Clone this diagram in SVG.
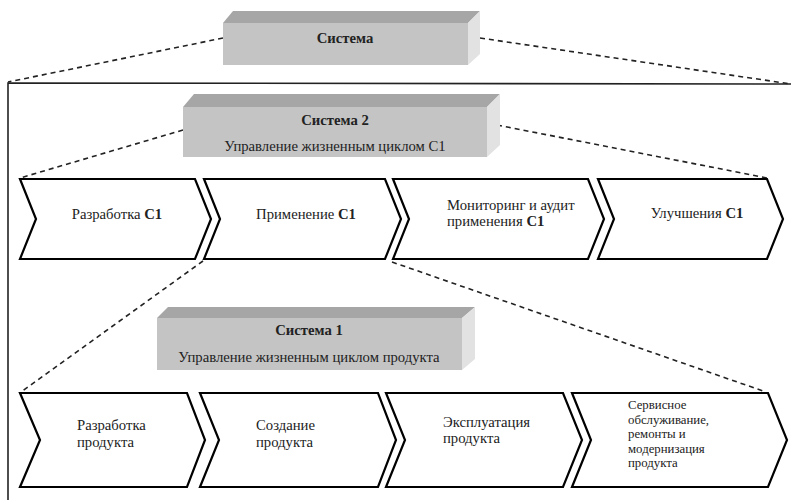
<svg xmlns="http://www.w3.org/2000/svg" width="791" height="500" viewBox="0 0 791 500">
  <style>
    .t { font-family: 'Liberation Serif', 'Times New Roman', serif; font-size: 14.7px; fill: #222; }
    .sm { font-size: 12.8px; }
    .b { font-weight: bold; }
    .mid { text-anchor: middle; }
    .front { fill: #c4c4c4; }
    .top { fill: #a6a6a6; }
    .side { fill: #e2e2e2; }
    .chev { fill: #fff; stroke: #000; stroke-width: 2.2; stroke-linejoin: miter; }
    .dash { fill: none; stroke: #222; stroke-width: 1.6; stroke-dasharray: 5 4; }
    .frame { fill: none; stroke: #222; stroke-width: 1.6; }
  </style>

  <rect width="791" height="500" fill="#fff"/>

  <!-- enclosing frame (only top and left edges fall inside the view) -->
  <polyline class="frame" points="791,84 8,83 8,500"/>

  <g id="connectors">
    <line class="dash" x1="223" y1="38" x2="8" y2="82"/>
    <line class="dash" x1="480" y1="38" x2="791" y2="84"/>
    <line class="dash" x1="183" y1="130" x2="20" y2="178"/>
    <line class="dash" x1="497" y1="125" x2="767" y2="178"/>
    <line class="dash" x1="203" y1="261" x2="21" y2="392"/>
    <line class="dash" x1="392" y1="262" x2="766" y2="392"/>
  </g>

  <!-- top-level system block -->
  <g id="system">
    <polygon class="top" points="223,23 233,11 480,11 468,23"/>
    <polygon class="side" points="468,23 480,11 480,54 468,65"/>
    <rect class="front" x="223" y="23" width="245" height="42"/>
    <text class="t b mid" x="345" y="43">Система</text>
  </g>

  <!-- system 2 block -->
  <g id="system2">
    <polygon class="top" points="183,107 194,94 500,94 487,107"/>
    <polygon class="side" points="487,107 500,94 500,145 487,157"/>
    <rect class="front" x="183" y="107" width="304" height="50"/>
    <text class="t b mid" x="335" y="125">Система 2</text>
    <text class="t mid" x="335" y="151">Управление жизненным циклом С1</text>
  </g>

  <!-- upper process chain -->
  <g id="s2-dev">
    <polygon class="chev" points="20,179 195,179 211,219 195,259 20,259 36,219"/>
    <text class="t mid" x="117" y="219">Разработка <tspan class="b">С1</tspan></text>
  </g>
  <g id="s2-use">
    <polygon class="chev" points="204,179 385,179 401,219 385,259 204,259 220,219"/>
    <text class="t mid" x="306" y="219">Применение <tspan class="b">С1</tspan></text>
  </g>
  <g id="s2-audit">
    <polygon class="chev" points="393,179 588,179 604,219 588,259 393,259 409,219"/>
    <text class="t" x="447" y="210">Мониторинг и аудит</text>
    <text class="t" x="447" y="226">применения <tspan class="b">С1</tspan></text>
  </g>
  <g id="s2-improve">
    <polygon class="chev" points="598,179 767,179 783,219 767,259 598,259 614,219"/>
    <text class="t mid" x="697" y="218">Улучшения <tspan class="b">С1</tspan></text>
  </g>

  <!-- system 1 block -->
  <g id="system1">
    <polygon class="top" points="157,318 168,307 475,307 462,318"/>
    <polygon class="side" points="462,318 475,307 475,359 462,370"/>
    <rect class="front" x="157" y="318" width="305" height="52"/>
    <text class="t b mid" x="309" y="335">Система 1</text>
    <text class="t mid" x="309" y="362">Управление жизненным циклом продукта</text>
  </g>

  <!-- lower process chain -->
  <g id="s1-dev">
    <polygon class="chev" points="20,393 187,393 205,440 187,487 20,487 40,440"/>
    <text class="t" x="77" y="430">Разработка</text>
    <text class="t" x="77" y="447">продукта</text>
  </g>
  <g id="s1-build">
    <polygon class="chev" points="200,393 378,393 396,440 378,487 200,487 219,440"/>
    <text class="t" x="256" y="430">Создание</text>
    <text class="t" x="256" y="447">продукта</text>
  </g>
  <g id="s1-operate">
    <polygon class="chev" points="386,393 563,393 582,440 563,487 386,487 405,440"/>
    <text class="t" x="443" y="427">Эксплуатация</text>
    <text class="t" x="443" y="443">продукта</text>
  </g>
  <g id="s1-service">
    <polygon class="chev" points="572,393 768,393 787,440 768,487 572,487 591,440"/>
    <text class="t sm" x="628" y="409">Сервисное</text>
    <text class="t sm" x="628" y="423.5">обслуживание,</text>
    <text class="t sm" x="628" y="438">ремонты и</text>
    <text class="t sm" x="628" y="452.5">модернизация</text>
    <text class="t sm" x="628" y="467">продукта</text>
  </g>
</svg>
